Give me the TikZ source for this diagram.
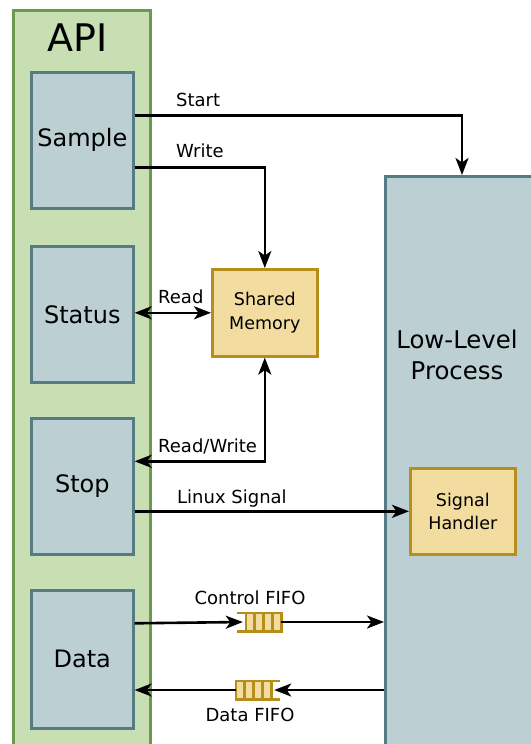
\documentclass[tikz,border=0pt]{standalone}
\usepackage{fontspec}
\setmainfont{DejaVu Sans}
\usetikzlibrary{arrows.meta,calc}
\definecolor{apifill}{HTML}{C8DFB4}
\definecolor{apidraw}{HTML}{6A9A4A}
\definecolor{boxfill}{HTML}{BCCFD3}
\definecolor{boxdraw}{HTML}{557C84}
\definecolor{ylwfill}{HTML}{F2DC9F}
\definecolor{ylwdraw}{HTML}{B58E1C}
\begin{document}
\begin{tikzpicture}[x=1pt,y=-1pt,
  apibox/.style={draw=apidraw, fill=apifill, line width=2.6pt},
  sub/.style={draw=boxdraw, fill=boxfill, line width=2.6pt, anchor=north west,
    minimum width=102pt, minimum height=136pt, inner sep=0pt,
    font=\fontsize{24}{28}\selectfont},
  ylw/.style={draw=ylwdraw, fill=ylwfill, line width=2.6pt, anchor=north west,
    minimum width=105pt, minimum height=87pt, inner sep=0pt, align=center,
    font=\fontsize{17.5}{23.5}\selectfont},
  lbl/.style={font=\fontsize{18}{21}\selectfont, inner sep=0pt},
  fifo/.style={fill=ylwfill, minimum width=35pt, minimum height=18pt, inner sep=0pt},
  fifoline/.style={draw=ylwdraw, line width=2.6pt},
  arr/.style={line width=2.6pt, -{Stealth[length=17pt,width=13pt,inset=4.5pt]}},
  barr/.style={line width=2.6pt, {Stealth[length=17pt,width=13pt,inset=4.5pt]}-{Stealth[length=17pt,width=13pt,inset=4.5pt]}}
]
\useasboundingbox (0,0) rectangle (530,744);

% API container
\node[apibox, anchor=north west, minimum width=137pt, minimum height=760pt, inner sep=0pt] (api) at (12,9) {};
\node[font=\fontsize{38}{40}\selectfont, inner sep=0pt] (apit) at (78,38) {API};

% Low-level process
\node[draw=boxdraw, fill=boxfill, line width=2.6pt, anchor=north west, minimum width=160pt,
  minimum height=600pt, inner sep=0pt] (llp) at (384,175) {};
\node[align=center, font=\fontsize{24.4}{31}\selectfont] (llpt) at (457,355) {Low-Level\\Process};

% API sub-boxes
\node[sub] (sample) at (30,71) {Sample};
\node[sub] (status) at (30,245) {Status};
\node[sub] (stop) at (30,417) {Stop};
\node[sub, minimum height=138pt] (data) at (30,589) {Data};

% Yellow boxes
\node[ylw] (shm) at (211,268) {Shared\\Memory};
\node[ylw, minimum height=86pt] (sh) at (409,467) {Signal\\Handler};

% FIFOs
\node[fifo] (cfifo) at (263.5,622) {};
\node[fifo] (dfifo) at (253.5,690) {};
\draw[fifoline] ([xshift=-9pt]cfifo.north west) -- (cfifo.north east) -- (cfifo.south east) -- ([xshift=-9pt]cfifo.south west);
\draw[fifoline] ([xshift=9pt]dfifo.north east) -- (dfifo.north west) -- (dfifo.south west) -- ([xshift=9pt]dfifo.south east);
\foreach \i in {0,1,2,3} {
  \draw[fifoline] ($(cfifo.north west)!\i/4!(cfifo.north east)$) -- ($(cfifo.south west)!\i/4!(cfifo.south east)$);
  \draw[fifoline] ($(dfifo.north west)!{(\i+1)/4}!(dfifo.north east)$) -- ($(dfifo.south west)!{(\i+1)/4}!(dfifo.south east)$);
}

% Connectors
\draw[arr] ([yshift=25pt]sample.east) -| (llp.north -| 462,0);
\draw[arr] ([yshift=-27pt]sample.east) -| (shm.north);
\draw[barr] (status.east |- shm.west) -- (shm.west);
\draw[barr] (shm.south) |- ([yshift=25pt]stop.east);
\draw[arr] (sh.west -| stop.east) -- (sh.west);
\draw[arr] ([yshift=36pt]data.east) -- ([xshift=-3pt]cfifo.west |- 0,622);
\draw[arr] (cfifo.east) -- (llp.west |- cfifo.east);
\draw[arr] (llp.west |- dfifo.east) -- ([xshift=3pt]dfifo.east);
\draw[arr] (dfifo.west) -- (data.east |- dfifo.west);

% Labels
\node[lbl, anchor=base west] (lstart) at (176,106) {Start};
\node[lbl, anchor=base west] (lwrite) at (176,157) {Write};
\node[lbl, anchor=base west] (lread) at (158,303) {Read};
\node[lbl, anchor=base west] (lrw) at (158,452) {Read/Write};
\node[lbl, anchor=base west] (llin) at (177,503) {Linux Signal};
\node[lbl, anchor=base] (lcf) at (250,604) {Control FIFO};
\node[lbl, anchor=base] (ldf) at (250,721) {Data FIFO};
\end{tikzpicture}
\end{document}
